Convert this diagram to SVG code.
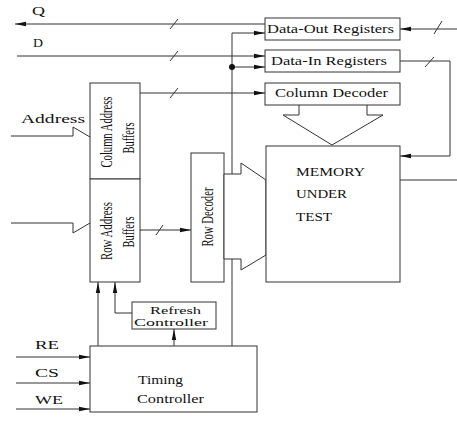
<svg xmlns="http://www.w3.org/2000/svg" width="457" height="423" viewBox="0 0 457 423">
<style>
.ln{fill:none;stroke:#333;stroke-width:1}
.bx{fill:#fff;stroke:#333;stroke-width:1}
.t{font-family:"Liberation Serif","Times New Roman",serif;fill:#111;font-size:13px}
.r{font-family:"Liberation Serif","Times New Roman",serif;fill:#111;font-size:17px;text-anchor:middle}
</style>
<defs>
<marker id="ah" markerUnits="userSpaceOnUse" markerWidth="11" markerHeight="6" refX="11" refY="3" orient="auto">
<path d="M0,0.8 L11,3 L0,5.2 z" fill="#111"/>
</marker>
</defs>
<rect width="457" height="423" fill="#fff"/>
<g id="connectors">
<line class="ln" x1="265" y1="24" x2="15" y2="24" marker-end="url(#ah)"/>
<line class="ln" x1="170" y1="29" x2="178" y2="19"/>
<line class="ln" x1="17" y1="56" x2="265" y2="56" marker-end="url(#ah)"/>
<line class="ln" x1="170" y1="61" x2="178" y2="51"/>
<line class="ln" x1="140" y1="93" x2="265" y2="93" marker-end="url(#ah)"/>
<line class="ln" x1="170" y1="98" x2="178" y2="88"/>
<line class="ln" x1="232" y1="33" x2="232" y2="346"/>
<line class="ln" x1="232" y1="33" x2="265" y2="33" marker-end="url(#ah)"/>
<line class="ln" x1="232" y1="67" x2="265" y2="67" marker-end="url(#ah)"/>
<circle cx="232" cy="67" r="3" fill="#111"/>
<line class="ln" x1="457" y1="29" x2="400" y2="29" marker-end="url(#ah)"/>
<line class="ln" x1="434" y1="34" x2="442" y2="21"/>
<polyline class="ln" points="400,61 450,61 450,156 400,156" marker-end="url(#ah)"/>
<line class="ln" x1="425" y1="67" x2="434" y2="57"/>
<line class="ln" x1="400" y1="180" x2="457" y2="180"/>
<polyline class="ln" points="299,105 299,115 283,115 332,145"/>
<polyline class="ln" points="367,105 367,115 383,115 332,145"/>
<polyline class="ln" points="11,136 73,136 73,127 90,137"/>
<polyline class="ln" points="11,223 73,223 73,233 90,223"/>
<line class="ln" x1="140" y1="230" x2="191" y2="230" marker-end="url(#ah)"/>
<line class="ln" x1="156" y1="235" x2="163" y2="225"/>
<line class="ln" x1="98" y1="346" x2="98" y2="282" marker-end="url(#ah)"/>
<polyline class="ln" points="132,313 115,313 115,282" marker-end="url(#ah)"/>
<line class="ln" x1="174" y1="346" x2="174" y2="329" marker-end="url(#ah)"/>
<line class="ln" x1="16" y1="357" x2="90" y2="357" marker-end="url(#ah)"/>
<line class="ln" x1="16" y1="383" x2="90" y2="383" marker-end="url(#ah)"/>
<line class="ln" x1="16" y1="409" x2="90" y2="409" marker-end="url(#ah)"/>
</g>
<g id="labels">
<text class="t" x="32" y="15" textLength="13" lengthAdjust="spacingAndGlyphs">Q</text>
<text class="t" x="33" y="47" textLength="10" lengthAdjust="spacingAndGlyphs">D</text>
<text class="t" x="21" y="123" textLength="64" lengthAdjust="spacingAndGlyphs">Address</text>
<text class="t" x="35" y="349" textLength="24" lengthAdjust="spacingAndGlyphs">RE</text>
<text class="t" x="35" y="377" textLength="24" lengthAdjust="spacingAndGlyphs">CS</text>
<text class="t" x="35" y="404" textLength="28" lengthAdjust="spacingAndGlyphs">WE</text>
</g>
<g id="data-out">
<rect class="bx" x="265" y="18" width="135" height="22"/>
<text class="t" x="267" y="33" textLength="127" lengthAdjust="spacingAndGlyphs">Data-Out Registers</text>
</g>
<g id="data-in">
<rect class="bx" x="265" y="50" width="135" height="22"/>
<text class="t" x="271" y="65" textLength="116" lengthAdjust="spacingAndGlyphs">Data-In Registers</text>
</g>
<g id="col-decoder">
<rect class="bx" x="265" y="83" width="135" height="22"/>
<text class="t" x="275" y="97" textLength="113" lengthAdjust="spacingAndGlyphs">Column Decoder</text>
</g>
<g id="col-buffers">
<rect class="bx" x="90" y="83" width="50" height="96"/>
<text class="r" transform="translate(112,132) rotate(-90)" textLength="71" lengthAdjust="spacingAndGlyphs">Column Address</text>
<text class="r" transform="translate(134,138) rotate(-90)" textLength="31" lengthAdjust="spacingAndGlyphs">Buffers</text>
</g>
<g id="row-buffers">
<rect class="bx" x="90" y="179" width="50" height="103"/>
<text class="r" transform="translate(112,231) rotate(-90)" textLength="58" lengthAdjust="spacingAndGlyphs">Row Address</text>
<text class="r" transform="translate(134,232) rotate(-90)" textLength="31" lengthAdjust="spacingAndGlyphs">Buffers</text>
</g>
<g id="row-decoder">
<rect class="bx" x="191" y="153" width="33" height="129"/>
<text class="r" transform="translate(213,217) rotate(-90)" textLength="59" lengthAdjust="spacingAndGlyphs">Row Decoder</text>
<polygon class="bx" points="224,174 241,174 241,163 266,180 266,255 241,270 241,259 224,259"/>
</g>
<g id="memory">
<rect class="bx" x="266" y="146" width="134" height="136"/>
<text class="t" x="296" y="176" font-size="12" textLength="69" lengthAdjust="spacingAndGlyphs">MEMORY</text>
<text class="t" x="296" y="198" font-size="12" textLength="51" lengthAdjust="spacingAndGlyphs">UNDER</text>
<text class="t" x="296" y="221" font-size="12" textLength="36" lengthAdjust="spacingAndGlyphs">TEST</text>
</g>
<g id="refresh">
<rect class="bx" x="132" y="302" width="84" height="27"/>
<text class="t" x="150" y="314" style="font-size:11px" textLength="51" lengthAdjust="spacingAndGlyphs">Refresh</text>
<text class="t" x="134" y="326" style="font-size:11px" textLength="74" lengthAdjust="spacingAndGlyphs">Controller</text>
</g>
<g id="timing">
<rect class="bx" x="90" y="346" width="167" height="66"/>
<text class="t" x="138" y="384" textLength="45" lengthAdjust="spacingAndGlyphs">Timing</text>
<text class="t" x="137" y="403" textLength="67" lengthAdjust="spacingAndGlyphs">Controller</text>
</g>
</svg>
